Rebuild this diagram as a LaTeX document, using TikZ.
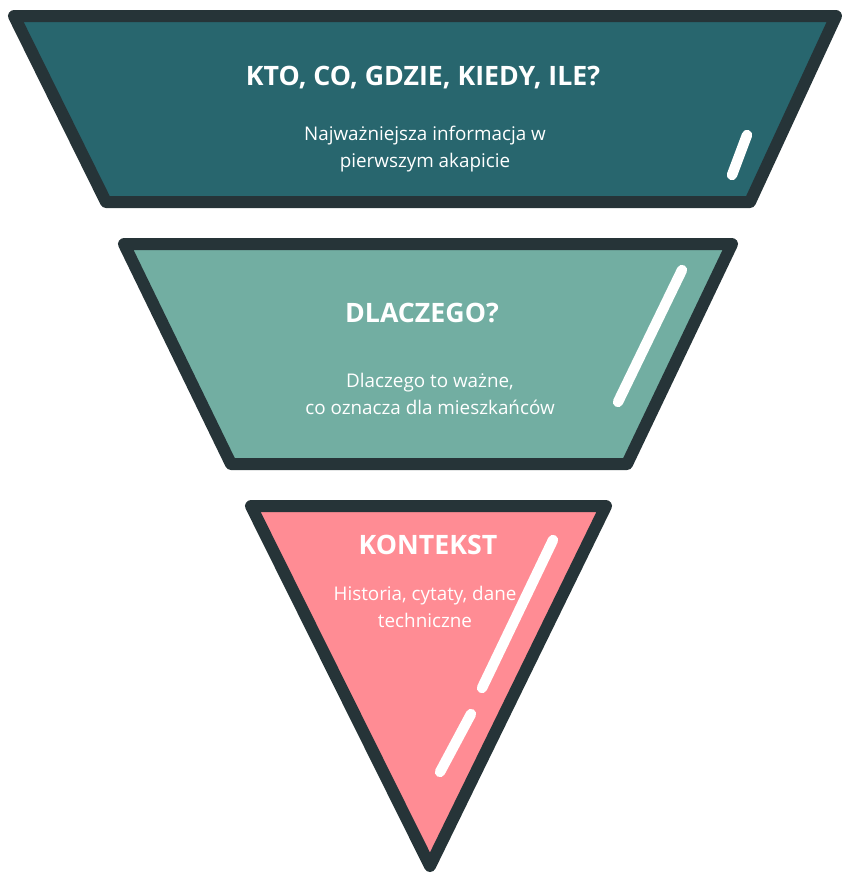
\documentclass[tikz,border=0pt]{standalone}
\usepackage{fontspec}
\setmainfont{Open Sans}
\definecolor{funnelrim}{HTML}{263438}
\definecolor{tealdark}{HTML}{28666E}
\definecolor{tealsoft}{HTML}{72AEA2}
\definecolor{rosesoft}{HTML}{FF8C94}

\begin{document}
\begin{tikzpicture}[x=0.025cm, y=-0.025cm,
    rim/.style={draw=funnelrim, line width=0.3cm, line join=round},
    headline/.style={text=white, font=\fontsize{19}{22}\selectfont\bfseries},
    subline/.style={text=white, font=\fontsize{13.4}{19.5}\selectfont, align=center}]

%glare means the white shine line
\newcommand{\glare}[4]{
        \draw[white, line width=0.26cm, line cap=round] (#1,#2) -- (#3,#4);
}
\useasboundingbox (0,0) rectangle (842,876);

%%top level
\draw[rim, fill=tealdark] (14,16) -- (836,16) -- (750,202) -- (106,202) -- cycle;
\node[headline] (who) at (423,78) {KTO, CO, GDZIE, KIEDY, ILE?};
\node[subline] (whotext) at (425,149) {Najważniejsza informacja w\\pierwszym akapicie};
\glare{747}{135}{732}{175}

%%middle level
\draw[rim, fill=tealsoft] (124,244) -- (732,244) -- (627,464) -- (231,464) -- cycle;
\node[headline] (why) at (422,313) {DLACZEGO?};
\node[subline] (whytext) at (430,394) {Dlaczego to ważne,\\co oznacza dla mieszkańców};
\glare{682}{270}{618}{402}

%%bottom level
\draw[rim, fill=rosesoft] (251,506) -- (606,506) -- (430,866) -- cycle;
\node[headline] (context) at (428,545) {KONTEKST};
\node[subline] (contexttext) at (425,607) {Historia, cytaty, dane\\techniczne};
\glare{553}{540}{482}{688}
\glare{471}{714}{440}{772}

\end{tikzpicture}
\end{document}
